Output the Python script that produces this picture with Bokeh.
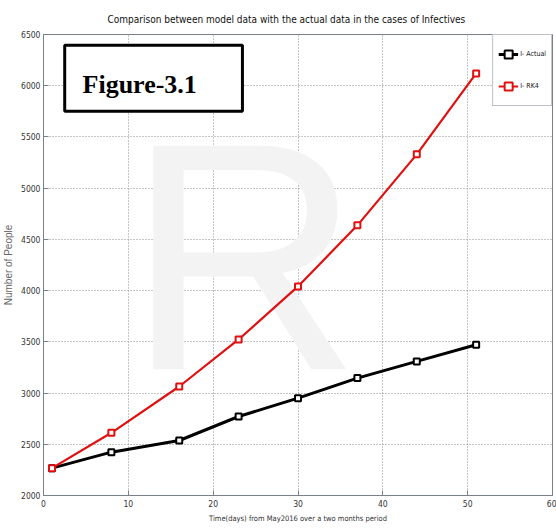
from bokeh.plotting import figure
from bokeh.models import Label, BoxAnnotation, FixedTicker, Range1d, Legend
from bokeh.embed import file_html
from bokeh.resources import INLINE

days = [1, 8, 16, 23, 30, 37, 44, 51]
actual = [2267, 2423, 2537, 2771, 2950, 3146, 3309, 3472]
rk4 = [2267, 2612, 3064, 3523, 4041, 4637, 5330, 6120]
x_ticks = [0, 10, 20, 30, 40, 50, 60]
y_ticks = [2000, 2500, 3000, 3500, 4000, 4500, 5000, 5500, 6000, 6500]

NARROW = "'DejaVu Sans Condensed', 'Liberation Sans', sans-serif"

p = figure(width=556, height=529, output_backend="svg", toolbar_location=None,
           x_range=Range1d(0, 60), y_range=Range1d(2000, 6500),
           min_border_left=42, min_border_right=4, min_border_top=34, min_border_bottom=34,
           title="Comparison between model data with the actual data in the cases of Infectives")

p.title.text_font = NARROW
p.title.text_font_size = "10px"
p.title.text_font_style = "normal"
p.title.text_color = "#111111"
p.title.align = "left"
p.title.offset = 64
p.title.standoff = 19

p.outline_line_color = "#7a8088"
p.outline_line_width = 1

for ax in (p.xaxis, p.yaxis):
    ax.axis_line_color = "#7a8088"
    ax.major_tick_line_color = "#7a8088"
    ax.major_tick_in = 5
    ax.major_tick_out = 0
    ax.minor_tick_line_color = None
    ax.major_label_text_font = NARROW
    ax.major_label_text_font_size = "8.5px"
    ax.major_label_text_color = "#333333"
    ax.axis_label_text_font_style = "normal"

p.xaxis.ticker = FixedTicker(ticks=x_ticks)
p.yaxis.ticker = FixedTicker(ticks=y_ticks)
p.xaxis.major_label_standoff = 4
p.yaxis.major_label_standoff = 3

p.xaxis.axis_label = "Time(days) from May2016 over a two months period"
p.xaxis.axis_label_text_font = NARROW
p.xaxis.axis_label_text_font_size = "7.5px"
p.xaxis.axis_label_text_color = "#333333"
p.xaxis.axis_label_standoff = 4

p.yaxis.axis_label = "Number of People"
p.yaxis.axis_label_text_font = "'Liberation Sans', sans-serif"
p.yaxis.axis_label_text_font_size = "10px"
p.yaxis.axis_label_text_color = "#666666"
p.yaxis.axis_label_standoff = 4

p.xgrid.ticker = FixedTicker(ticks=x_ticks)
p.ygrid.ticker = FixedTicker(ticks=y_ticks)
for g in (p.xgrid, p.ygrid):
    g.grid_line_color = "#8a8a8a"
    g.grid_line_dash = "1 2"
    g.grid_line_width = 1

# faint watermark
wm = Label(x=9.8, y=4330, text="R", text_font="'Liberation Sans', sans-serif",
           text_font_size="325px", text_color="#f3f3f3", text_baseline="alphabetic",
           level="underlay")
p.add_layout(wm)

l1 = p.line(days, actual, line_color="black", line_width=3)
s1 = p.scatter(days, actual, marker="square", size=6, line_color="black", line_width=2,
               fill_color="white")
l2 = p.line(days, rk4, line_color="#e01010", line_width=2.2)
s2 = p.scatter(days, rk4, marker="square", size=6, line_color="#e01010", line_width=2,
               fill_color="white")

legend = Legend(items=[("I- Actual", [l1, s1]), ("I- RK4", [l2, s2])],
                location="top_right")
legend.margin = 0
legend.padding = 5
legend.spacing = 4
legend.glyph_width = 20
legend.glyph_height = 28
legend.label_text_font = NARROW
legend.label_text_font_size = "7px"
legend.label_text_color = "#111111"
legend.label_standoff = 2
legend.border_line_color = "#7a8088"
legend.border_line_width = 1
legend.background_fill_alpha = 1
p.add_layout(legend)

box = BoxAnnotation(left=2.5, right=23.45, top=6394, bottom=5750,
                    fill_color="white", fill_alpha=1, line_color="black", line_alpha=1,
                    line_width=3, level="overlay")
p.add_layout(box)
fig_label = Label(x=4.6, y=6012, text="Figure-3.1", text_font="'Liberation Serif', serif",
                  text_font_style="bold", text_font_size="26px", text_color="black",
                  text_baseline="alphabetic", level="overlay")
p.add_layout(fig_label)

open("out.html", "w").write(file_html(p, INLINE))
